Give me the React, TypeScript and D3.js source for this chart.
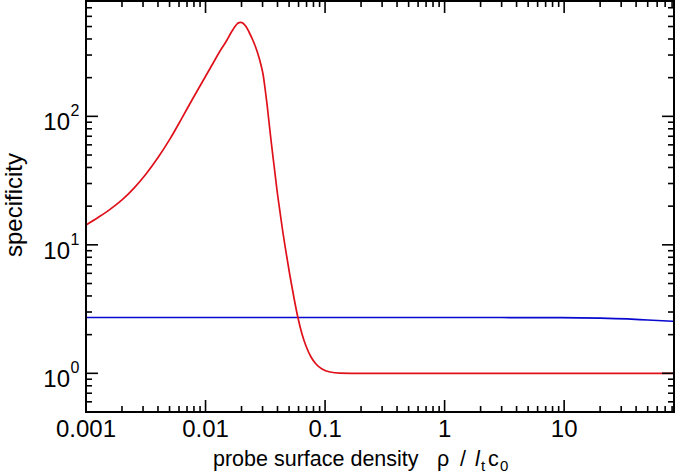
import React from 'react';
import * as d3 from 'd3';

const W = 677;
const H = 473;
const plot = { left: 86, right: 674, top: 1, bottom: 412 };

// red curve (specificity vs probe surface density)
const redX = [0.001, 0.00126, 0.001588, 0.002, 0.002522, 0.003177, 0.004004, 0.005045, 0.006357, 0.007704,
  0.009343, 0.01133, 0.01322, 0.01512, 0.01602, 0.01698, 0.01764, 0.01834, 0.01905, 0.0198,
  0.02058, 0.02181, 0.0231, 0.02495, 0.02695, 0.02911, 0.03025, 0.03144, 0.03267, 0.03396,
  0.03529, 0.03738, 0.0396, 0.04198, 0.04446, 0.0471, 0.05088, 0.05496, 0.05937, 0.06413,
  0.06926, 0.07627, 0.08398, 0.09428, 0.11, 0.1334, 0.2, 1, 10, 83];
const redY = [14.27, 16.32, 18.87, 22.37, 27.64, 35.58, 47.75, 66.74, 97.25, 134.1,
  183.4, 250.9, 322.5, 392.8, 433.5, 474.0, 500.2, 523.2, 536.5, 539.4,
  530.8, 500.2, 453.3, 389.3, 322.5, 250.9, 213.5, 166.2, 124.8, 90.33,
  65.44, 41.81, 26.72, 18.01, 12.36, 8.796, 5.719, 3.857, 2.695, 2.023,
  1.631, 1.34, 1.182, 1.08, 1.024, 1.005, 1.0, 1.0, 1.0, 1.0];

// blue curve
const blueX = [0.001, 0.01, 0.1, 1, 3, 9.3, 20, 33.6, 50, 83];
const blueY = [2.72, 2.72, 2.72, 2.72, 2.718, 2.716, 2.69, 2.65, 2.60, 2.54];

const xMajor = [0.001, 0.01, 0.1, 1, 10];
const xTickLabels = ['0.001', '0.01', '0.1', '1', '10'];
const yMajor = [1, 10, 100];
const yTickExponents = ['0', '1', '2'];

const xDomain = [0.001, 83];
const yDomain = [0.5, 790];

const FONT = '"Liberation Sans", Arial, Helvetica, sans-serif';

function logTicks(domain: number[]) {
  const out: { v: number; major: boolean }[] = [];
  const lo = Math.floor(Math.log10(domain[0]));
  const hi = Math.ceil(Math.log10(domain[1]));
  for (let d = lo; d <= hi; d++) {
    for (let m = 1; m <= 9; m++) {
      const v = m * Math.pow(10, d);
      if (v >= domain[0] * 0.9999 && v <= domain[1] * 1.0001) out.push({ v, major: m === 1 });
    }
  }
  return out;
}

export default function App() {
  const x = d3.scaleLog().domain(xDomain).range([plot.left, plot.right]);
  const y = d3.scaleLog().domain(yDomain).range([plot.bottom, plot.top]);

  const line = d3
    .line<[number, number]>()
    .x((d) => x(d[0]))
    .y((d) => y(d[1]))
    .curve(d3.curveMonotoneX);

  const redPts = redX.map((v, i) => [v, redY[i]] as [number, number]);
  const bluePts = blueX.map((v, i) => [v, blueY[i]] as [number, number]);

  const xt = logTicks(xDomain);
  const yt = logTicks(yDomain);
  const MAJ = 12;
  const MIN = 6;

  return (
    <div style={{ position: 'fixed', left: 0, top: 0 }}>
      <svg width={W} height={H} style={{ display: 'block', background: '#fff' }}>
        <defs>
          <clipPath id="clip">
            <rect x={plot.left} y={plot.top} width={plot.right - plot.left} height={plot.bottom - plot.top} />
          </clipPath>
        </defs>
        <g clipPath="url(#clip)">
          <path d={line(bluePts) || ''} fill="none" stroke="#0808d0" strokeWidth={1.7} />
          <path d={line(redPts) || ''} fill="none" stroke="#e0101a" strokeWidth={1.7} />
        </g>
        {xt.map((t, i) => {
          const px = x(t.v);
          const L = t.major ? MAJ : MIN;
          return (
            <g key={'xt' + i} stroke="#000" strokeWidth={1.6}>
              <line x1={px} x2={px} y1={plot.bottom} y2={plot.bottom - L} />
              <line x1={px} x2={px} y1={plot.top} y2={plot.top + L} />
            </g>
          );
        })}
        {yt.map((t, i) => {
          const py = y(t.v);
          const L = t.major ? MAJ : MIN;
          return (
            <g key={'yt' + i} stroke="#000" strokeWidth={1.6}>
              <line x1={plot.left} x2={plot.left + L} y1={py} y2={py} />
              <line x1={plot.right} x2={plot.right - L} y1={py} y2={py} />
            </g>
          );
        })}
        <rect
          x={plot.left}
          y={plot.top}
          width={plot.right - plot.left}
          height={plot.bottom - plot.top}
          fill="none"
          stroke="#000"
          strokeWidth={2}
        />
        {xMajor.map((v, i) => (
          <text key={'xl' + i} x={x(v)} y={437} textAnchor="middle" fontFamily={FONT} fontSize={24} fill="#000">
            {xTickLabels[i]}
          </text>
        ))}
        {yMajor.map((v, i) => (
          <g key={'yl' + i}>
            <text x={70} y={y(v) + 14} textAnchor="end" fontFamily={FONT} fontSize={24} fill="#000">
              10
            </text>
            <text x={70.5} y={y(v)} textAnchor="start" fontFamily={FONT} fontSize={16} fill="#000">
              {yTickExponents[i]}
            </text>
          </g>
        ))}
        <text
          transform="translate(22,205) rotate(-90)"
          textAnchor="middle"
          fontFamily={FONT}
          fontSize={24}
          fill="#000"
        >
          specificity
        </text>
        <g fontFamily={FONT} fontSize={21.5} fill="#000">
          <text x={213} y={466}>probe surface density</text>
          <text x={437} y={466}>ρ</text>
          <text x={460} y={466}>/</text>
          <text x={475} y={466} fontStyle="italic">l</text>
          <text x={481} y={471} fontSize={15}>t</text>
          <text x={488} y={466}>c</text>
          <text x={500} y={471} fontSize={15}>0</text>
        </g>
      </svg>
    </div>
  );
}
